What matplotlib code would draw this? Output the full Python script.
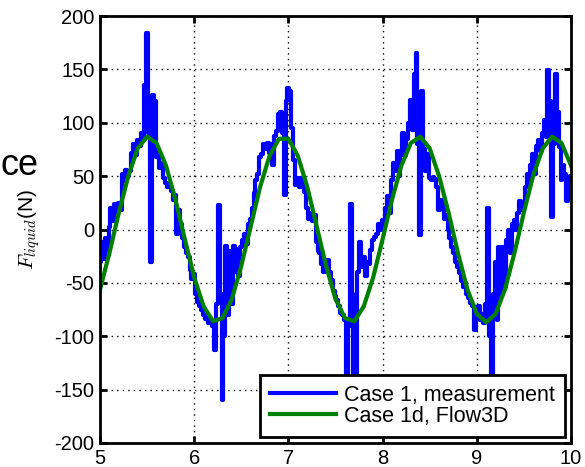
#!/usr/bin/env python3
"""
Liquid force: measurement vs Flow3D, t = 5..10 s
"""

import numpy as np
import matplotlib
matplotlib.use('Agg')
import matplotlib.pyplot as plt

plt.rcParams['font.family'] = ['Liberation Sans', 'DejaVu Sans']
plt.rcParams['mathtext.fontset'] = 'cm'
plt.rcParams['axes.unicode_minus'] = False

meas_f = [
    -30, -12, -28, -8, -20, 2,
    20, 8, 24, 15, 25, 18,
    52, 45, 56, 50, 55,
    72, 80, 70, 84, 78, 90,
    88, 135, 184, 90, -30, 126,
    120, 68, 72, 58, 62, 48,
    44, 40, 42, 36, 28, 32,
    -4, 18, 5, -8, -16,
    -22, -26, -38, -46, -42,
    -60, -68, -72, -75, -80,
    -84, -82, -88, -86, -90,
    -113, -70, 23, -60, -160,
    -100, -15, -80, -20, -70,
    -15, -40, -18, -44, -16,
    -10, -4, -14, 5, 10,
    20, 34, 46, 52, 68,
    71, 80, 75, 81, 72,
    80, 60, 88, 92, 108,
    110, 90, 32, 120, 133,
    130, 95, 65, 42, 48,
    40, 48, 46, 35, 20,
    10, 15, 8, 14, -12,
    -20, -22, -32, -40, -36,
    -29, -40, -47, -58, -62,
    -66, -72, -78, -80, -85,
    -175, -90, 24, -60, -165,
    -150, -40, -12, -35, -26,
    -44, -30, -32, -19, -10,
    -7, -4, 5, 0, 9,
    2, 20, 31, 15, 46,
    62, 55, 74, 50, 70,
    90, 70, 85, 100, 121,
    93, 146, 165, 80, -5,
    130, 75, 55, 71, 48,
    46, 49, 47, 40, 18,
    28, 24, 10, 14, 0,
    -8, -16, -22, -30, -35,
    -41, -48, -54, -50, -60,
    -64, -69, -72, -94, -80,
    -72, -85, -79, -88, -70,
    20, -100, -160, -60, -30,
    -85, -16, -60, -16, -54,
    -10, 0, -22, 5, 9,
    0, 15, 27, 18, 25,
    40, 52, 45, 60, 71,
    52, 78, 84, 74, 90,
    103, 87, 149, 120, 12,
    80, 146, 110, 77, 46,
    60, 52, 27, 45, 50,
]
meas_t = np.linspace(5, 10, len(meas_f))

# Flow3D simulation, every 0.1 s
sim_t = np.linspace(5, 10, 51)
sim_f = [
    -56, -22, 16, 50, 76, 87, 81, 60, 28, -9,
    -45, -72, -86, -83, -65, -34, 3, 40, 69, 85,
    85, 69, 40, 3, -34, -65, -83, -86, -72, -45,
    -9, 28, 60, 81, 87, 76, 50, 16, -22, -56,
    -79, -87, -79, -56, -22, 16, 51, 76, 87, 81,
    60,
]

fig = plt.figure(figsize=(5.85, 4.67), dpi=100)
ax = fig.add_axes([0.171, 0.0514, 0.805, 0.9143])

ax.plot(meas_t, meas_f, color='#0000ff', lw=3, drawstyle='steps-mid',
        label='Case 1, measurement')
ax.plot(sim_t, sim_f, color='#008000', lw=3, label='Case 1d, Flow3D')

ax.set_xlim(5, 10)
ax.set_ylim(-200, 200)
ax.set_xticks([5, 6, 7, 8, 9, 10])
ax.set_yticks(range(-200, 201, 50))
ax.grid(True, color='black', linestyle=(0, (1, 3)), linewidth=1)
ax.tick_params(direction='in', length=5, width=2, labelsize=14.5,
               top=True, right=True, pad=4)
for s in ax.spines.values():
    s.set_linewidth(2)

ax.set_ylabel(r'$F_{liquid}$(N)', fontsize=15)
ax.yaxis.set_label_coords(-0.123, 0.5)

leg = ax.legend(loc='lower right', fontsize=15.5, fancybox=False,
                framealpha=1, edgecolor='black', borderaxespad=0.3,
                handlelength=3.1, handletextpad=0.35, borderpad=0.45,
                labelspacing=0.0)
leg.get_frame().set_linewidth(2)

# leftover of a clipped title at the left edge
fig.text(0.5 / 585, (467 - 175) / 467, 'ce', fontsize=26, ha='left',
         va='baseline')

plt.savefig('out.png', dpi=100)
